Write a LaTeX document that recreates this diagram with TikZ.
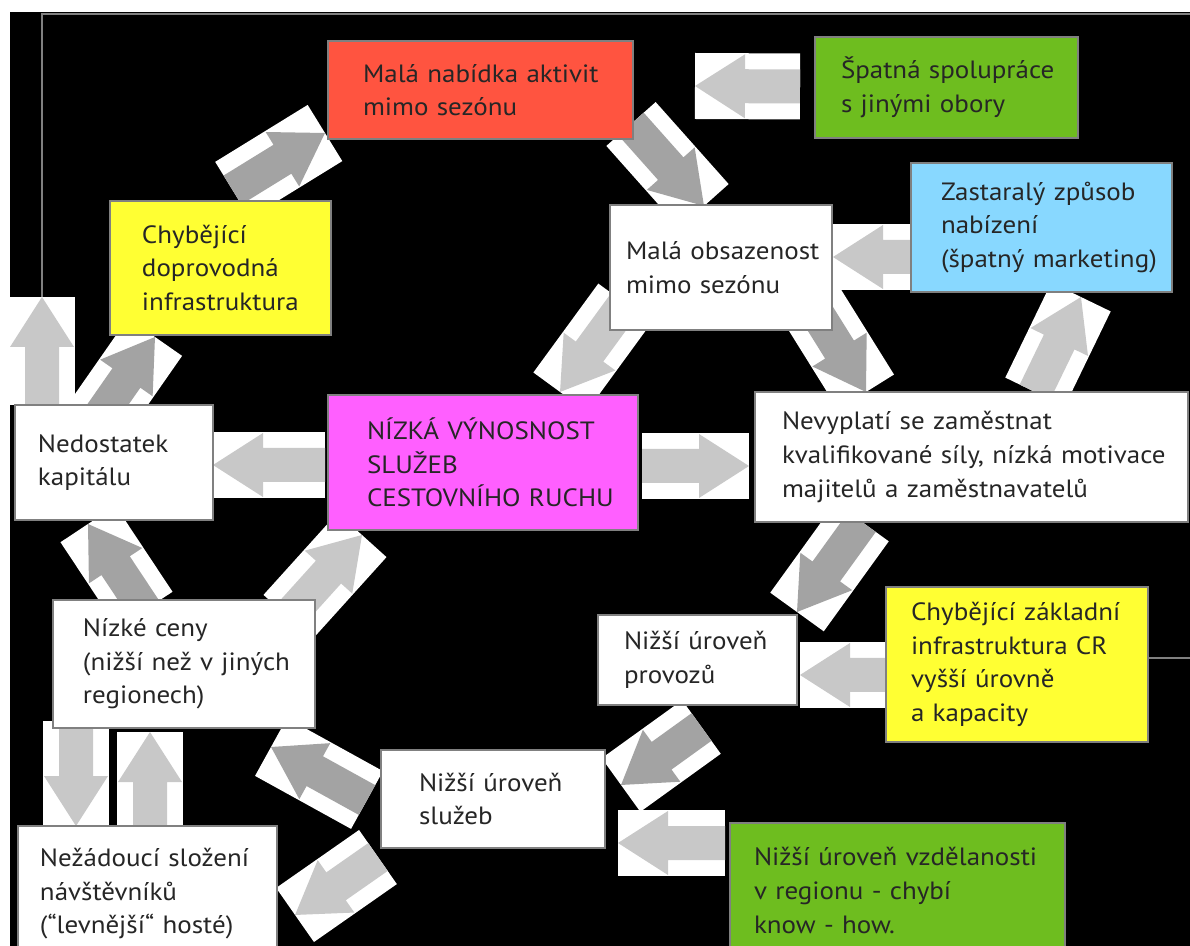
\documentclass[tikz,border=0pt]{standalone}
\usepackage{fontspec}
\setmainfont{PT Sans}[FakeStretch=1.08]
\usetikzlibrary{calc}
\definecolor{boxred}{RGB}{255,84,64}
\definecolor{boxgreen}{RGB}{110,189,31}
\definecolor{boxyellow}{RGB}{255,255,51}
\definecolor{boxblue}{RGB}{136,216,255}
\definecolor{boxpink}{RGB}{255,95,255}
\definecolor{boxline}{RGB}{128,128,128}
\definecolor{arrlight}{RGB}{200,200,200}
\definecolor{arrdark}{RGB}{163,163,163}
\pgfdeclarelayer{back}
\pgfdeclarelayer{arrows}
\pgfsetlayers{back,arrows,main}
\tikzset{
	box/.style={draw=boxline, line width=1pt, anchor=north west, inner sep=0pt, outer sep=0pt,
		align=left, text=black!85, font=\fontsize{12.5}{16.8}\selectfont},
	boxsize/.style n args={3}{minimum width=#1pt, text width=#1pt, minimum height=#2pt,
		execute at begin node={\leftskip=#3pt}},
	link/.style={draw=boxline, line width=1.2pt},
	pics/blk/.style 2 args={code={
		\fill[white] ({-#2/2},-33) rectangle ({#2/2},33);
		\fill[#1] ({-#2/2},-17) -- ({#2/2-50},-17) -- ({#2/2-50},-32) -- ({#2/2},0)
			-- ({#2/2-50},32) -- ({#2/2-50},17) -- ({-#2/2},17) -- cycle;
	}},
}
% block arrow from tail end to tip end
\newcommand\blockarrow[3][arrlight]{%
	\path let \p1=(#2), \p2=(#3), \n1={atan2(\y2-\y1,\x2-\x1)}, \n2={2*veclen(\x2-\x1,\y2-\y1)}
		in ($(\p1)!.5!(\p2)$) coordinate (barmid)
		\pgfextra{\pgfmathparse{\n1}\xdef\barang{\pgfmathresult}\pgfmathparse{\n2}\xdef\barlen{\pgfmathresult}};
	\pic[rotate=\barang] at (barmid) {blk={#1}{\barlen}};}

\begin{document}
\begin{tikzpicture}[x=0.5pt, y=-0.5pt]
	\useasboundingbox (0,0) rectangle (1190,946);
	\begin{pgfonlayer}{back}
		\fill[white] (0,0) rectangle (1190,946);
		\fill[black] (10,12) rectangle (1190,946);
	\end{pgfonlayer}
	\clip (0,0) rectangle (1190,946);

	% boxes
	\node[box, fill=boxred, boxsize={152.5}{49}{17.5}] (nabidka) at (328,41) {Malá nabídka aktivit\\mimo sezónu};
	\node[box, fill=boxgreen, boxsize={131.5}{50.5}{13}] (spoluprace) at (815,37) {Špatná spolupráce\\s jinými obory};
	\node[box, fill=boxyellow, boxsize={110.5}{67}{16}] (doprovod) at (110,201) {Chybějící\\doprovodná\\infrastruktura};
	\node[box, fill=white, boxsize={111}{62.5}{8}] (obsazenost) at (610,205) {Malá obsazenost\\mimo sezónu};
	\node[box, fill=boxblue, boxsize={130.5}{64.5}{15}] (marketing) at (911,163) {Zastaralý způsob\\nabízení\\(špatný marketing)};
	\node[box, fill=boxpink, boxsize={155}{67.5}{19.5}] (vynosnost) at (328,395) {NÍZKÁ VÝNOSNOST\\SLUŽEB\\CESTOVNÍHO RUCHU};
	\node[box, fill=white, boxsize={99}{57.5}{11.5}] (kapital) at (15,405) {Nedostatek\\kapitálu};
	\node[box, fill=white, boxsize={216.5}{65}{13.5}] (nevyplati) at (755,392) {Nevyplatí se zaměstnat\\kvalifikované síly, nízká motivace\\majitelů a zaměstnavatelů};
	\node[box, fill=white, boxsize={131}{64}{15}] (ceny) at (53,600) {Nízké ceny\\(nižší než v jiných\\regionech)};
	\node[box, fill=white, boxsize={99.5}{45}{13}] (provozy) at (598,615) {Nižší úroveň\\provozů};
	\node[box, fill=boxyellow, boxsize={131}{77.5}{12.5}] (zakladni) at (886,587) {Chybějící základní\\infrastruktura CR\\vyšší úrovně\\a kapacity};
	\node[box, fill=white, boxsize={112}{49}{19}] (sluzby) at (381,750) {Nižší úroveň\\služeb};
	\node[box, fill=boxgreen, boxsize={167.5}{67.5}{12}] (vzdelanost) at (730,823) {Nižší úroveň vzdělanosti\\v regionu - chybí\\know - how.};
	\node[box, fill=white, boxsize={129.5}{68}{11}] (slozeni) at (18,826) {Nežádoucí složení\\návštěvníků\\(“levnější“ hosté)};

	\coordinate (linetop) at ($(kapital.north west)+(27,-108)$);
	\coordinate (edgeTR) at (1190,14);
	\coordinate (edgeR) at (1190,658);

	% block arrows
	\begin{pgfonlayer}{arrows}
		\blockarrow[arrdark]{$(doprovod.north)+(12,-11)$}{$(nabidka.south west)+(-3,-6)$}
		\blockarrow[arrdark]{$(nabidka.south east)+(-2,-15)$}{$(obsazenost.north)+(-17,1)$}
		\blockarrow{$(spoluprace.west)+(-15,-1)$}{$(nabidka.east)+(62,-4)$}
		\blockarrow{$(marketing.west)+(0,29.5)$}{$(obsazenost.east)+(1,-10.5)$}
		\blockarrow{$(obsazenost.south west)+(15,-27)$}{$(vynosnost.north east)+(-78,-3)$}
		\blockarrow[arrdark]{$(obsazenost.south east)+(-24,-31)$}{$(nevyplati.north west)+(111,0)$}
		\blockarrow{$(nevyplati.north)+(63.5,0)$}{$(marketing.south)+(39.5,5)$}
		\blockarrow{$(vynosnost.west)+(-3,2.5)$}{$(kapital.east)+(0,2.5)$}
		\blockarrow{$(vynosnost.east)+(4,3.5)$}{$(nevyplati.west)+(-6,9)$}
		\blockarrow[arrdark]{$(kapital.north)+(-19,18)$}{$(doprovod.south west)+(45,2)$}
		\blockarrow{$(kapital.north west)+(27,0)$}{linetop}
		\blockarrow[arrdark]{$(ceny.north west)+(92,10)$}{$(kapital.south west)+(73,4)$}
		\blockarrow{$(ceny.north east)+(-27,17)$}{$(vynosnost.south west)+(34,5)$}
		\blockarrow[arrdark]{$(nevyplati.south west)+(107,0)$}{$(provozy.north east)+(0,-3)$}
		\blockarrow{$(zakladni.west)+(0,10.5)$}{$(provozy.east)+(3,15)$}
		\blockarrow[arrdark]{$(provozy.south)+(4,22)$}{$(sluzby.north east)+(16,35)$}
		\blockarrow{$(vzdelanost.west)+(-5,-47.5)$}{$(sluzby.east)+(13,44)$}
		\blockarrow[arrdark]{$(sluzby.west)+(-14,1)$}{$(ceny.south east)+(-44,19)$}
		\blockarrow{$(sluzby.south west)+(-3,9)$}{$(slozeni.east)+(18,21)$}
		\blockarrow{$(ceny.south west)+(23,-7)$}{$(slozeni.north west)+(58,0)$}
		\blockarrow{$(slozeni.north west)+(132,0)$}{$(ceny.south west)+(97,4)$}
	\end{pgfonlayer}

	% links to the rest of the scheme
	\draw[link] (linetop) |- (edgeTR);
	\draw[link] (zakladni.east |- edgeR) -- (edgeR);
\end{tikzpicture}
\end{document}
